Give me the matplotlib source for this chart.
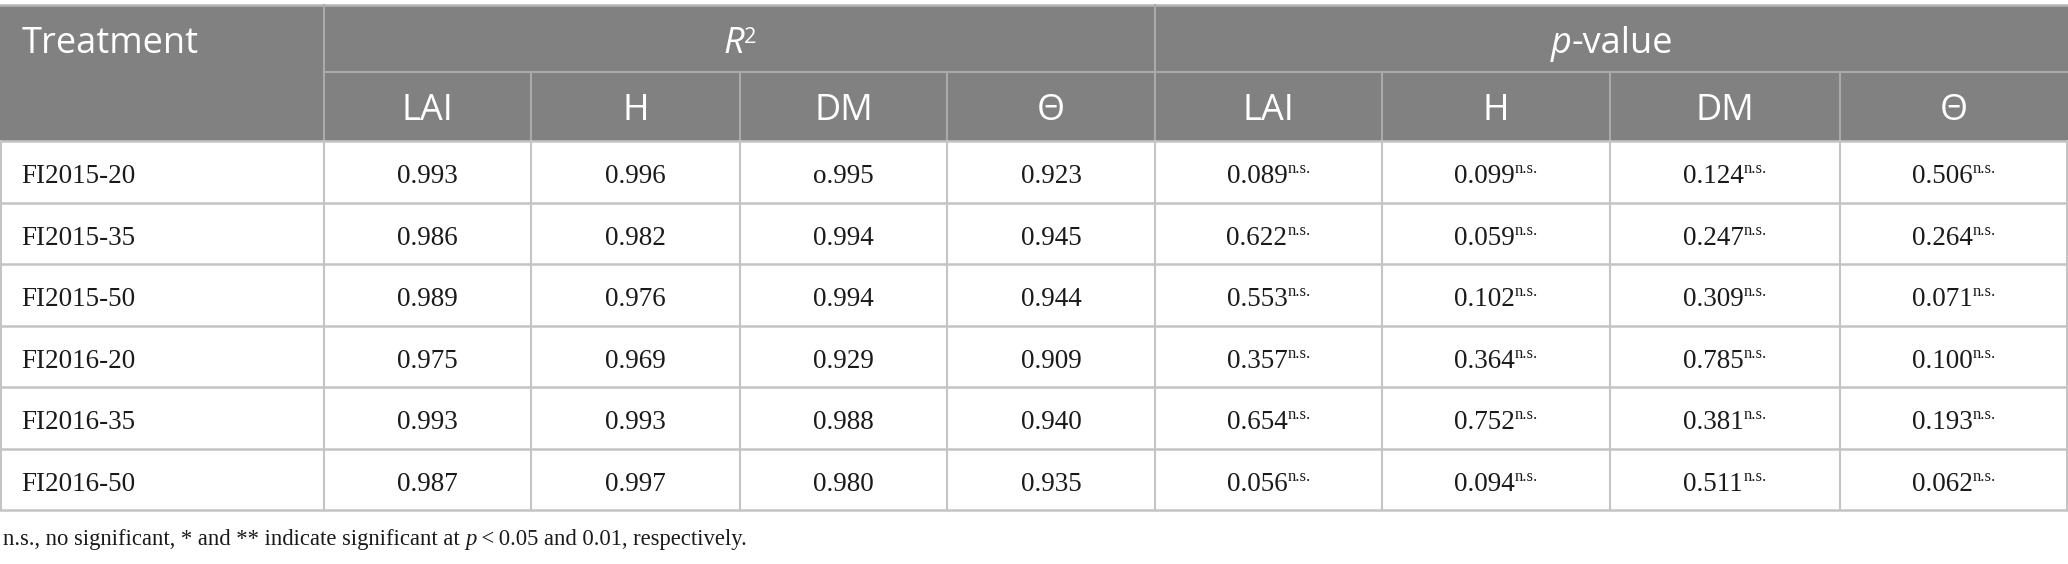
import matplotlib
matplotlib.use('Agg')
import matplotlib.pyplot as plt
from matplotlib.patches import Rectangle

# table contents
treatments = ['FI2015-20', 'FI2015-35', 'FI2015-50', 'FI2016-20', 'FI2016-35', 'FI2016-50']
variables = ['LAI', 'H', 'DM', 'Θ']

r2_lai = ['0.993', '0.986', '0.989', '0.975', '0.993', '0.987']
r2_h = ['0.996', '0.982', '0.976', '0.969', '0.993', '0.997']
r2_dm = ['o.995', '0.994', '0.994', '0.929', '0.988', '0.980']
r2_theta = ['0.923', '0.945', '0.944', '0.909', '0.940', '0.935']

p_lai = ['0.089', '0.622', '0.553', '0.357', '0.654', '0.056']
p_h = ['0.099', '0.059', '0.102', '0.364', '0.752', '0.094']
p_dm = ['0.124', '0.247', '0.309', '0.785', '0.381', '0.511']
p_theta = ['0.506', '0.264', '0.071', '0.100', '0.193', '0.062']
sig = 'n.s.'

note_runs = [('n.s., no significant, * and ** indicate significant at ', 'normal'),
             ('p', 'italic'),
             ('\u2009<\u20090.05 and 0.01, respectively.', 'normal')]

# layout (pixels)
W, H = 2068, 564
col_x = [0, 324, 531, 740, 947, 1155, 1382, 1610, 1840, 2068]
y_top, y_mid, y_head = 5, 72, 141
row_h = 61.5
n_rows = len(treatments)
y_bot = y_head + row_h * n_rows

head_bg = '#808180'
grid_c = '#c4c4c4'
head_line = '#a9aaa9'
sans = ['Open Sans', 'DejaVu Sans']
serif = ['Liberation Serif', 'DejaVu Serif']
head_fs = 26
data_fs = 19.5
sup_fs = 12

fig = plt.figure(figsize=(W / 100, H / 100), dpi=100)
ax = fig.add_axes([0, 0, 1, 1])
ax.set_xlim(0, W)
ax.set_ylim(H, 0)
ax.axis('off')
fig.canvas.draw()
renderer = fig.canvas.get_renderer()


def draw_runs(x, y, runs, color, ha='center'):
    # runs: (text, size, family, style, raise_px), laid out left to right
    objs = []
    for txt, size, fam, style, dy in runs:
        t = ax.text(0, y - dy, txt, fontsize=size, family=fam, style=style,
                    color=color, ha='left', va='baseline')
        objs.append(t)
    widths = [o.get_window_extent(renderer).width for o in objs]
    total = sum(widths)
    x0 = x - total / 2 if ha == 'center' else x
    for o, w in zip(objs, widths):
        o.set_x(x0)
        x0 += w
    return objs


# header background
ax.add_patch(Rectangle((0, y_top), W, y_head - y_top, facecolor=head_bg, edgecolor='none'))
ax.plot([0, W], [y_top, y_top], color='#b5b5b5', lw=1.8)
ax.plot([col_x[1], W], [y_mid, y_mid], color=head_line, lw=1.5)
for i, x in enumerate(col_x[1:-1], start=1):
    y0 = y_top if i in (1, 5) else y_mid
    ax.plot([x, x], [y0, y_head], color=head_line, lw=1.5)

base1 = 53
base2 = 120
ax.text(22, base1, 'Treatment', fontsize=head_fs, family=sans, color='white',
        ha='left', va='baseline')
draw_runs((col_x[1] + col_x[5]) / 2, base1,
          [('R', head_fs, sans, 'italic', 0), ('2', head_fs * 0.6, sans, 'normal', 10)],
          'white')
draw_runs((col_x[5] + col_x[9]) / 2, base1,
          [('p', head_fs, sans, 'italic', 0), ('-value', head_fs, sans, 'normal', 0)],
          'white')
for j in range(8):
    xc = (col_x[j + 1] + col_x[j + 2]) / 2
    ax.text(xc, base2, variables[j % 4], fontsize=head_fs, family=sans, color='white',
            ha='center', va='baseline')

# body grid
for i in range(n_rows + 1):
    y = y_head + row_h * i
    ax.plot([0, W], [y, y], color=grid_c, lw=1.8)
for x in col_x:
    xx = min(max(x, 1), W - 1)
    ax.plot([xx, xx], [y_head, y_bot], color=grid_c, lw=1.5)

# body text
ink = '#1a1a1a'
r2_cols = [r2_lai, r2_h, r2_dm, r2_theta]
p_cols = [p_lai, p_h, p_dm, p_theta]
for i, name in enumerate(treatments):
    yb = y_head + row_h * i + row_h / 2 + 11.5
    ax.text(21, yb, name, fontsize=data_fs, family=serif, color=ink,
            ha='left', va='baseline')
    for j, col in enumerate(r2_cols):
        xc = (col_x[j + 1] + col_x[j + 2]) / 2
        ax.text(xc, yb, col[i], fontsize=data_fs, family=serif, color=ink,
                ha='center', va='baseline')
    for j, col in enumerate(p_cols):
        xc = (col_x[j + 5] + col_x[j + 6]) / 2
        draw_runs(xc, yb, [(col[i], data_fs, serif, 'normal', 0),
                           (sig, sup_fs, serif, 'normal', 10)], ink)

# footnote
draw_runs(3, 545, [(t, 16.3, serif, s, 0) for t, s in note_runs], ink, ha='left')

fig.savefig('out.png', dpi=100, facecolor='white')
